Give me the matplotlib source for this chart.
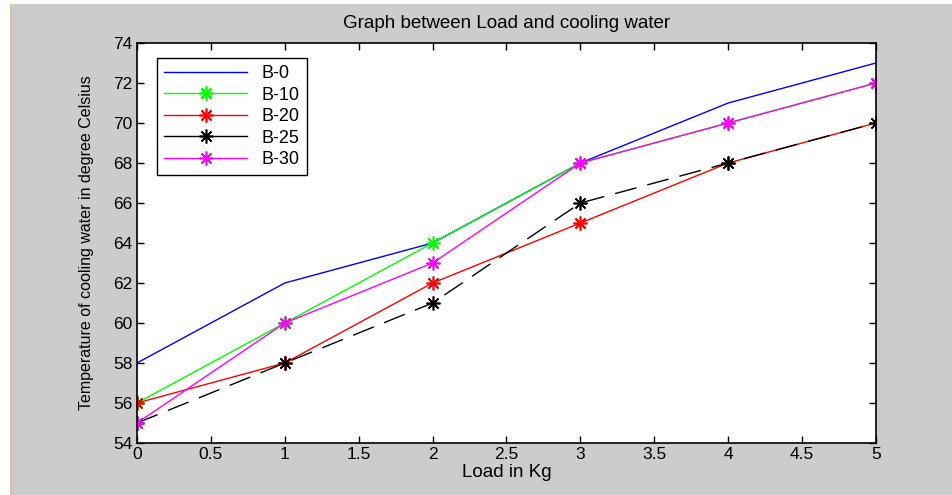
import matplotlib
matplotlib.use("Agg")
import matplotlib.pyplot as plt
from matplotlib.lines import Line2D
from matplotlib.patches import Rectangle

plt.rcParams['font.family'] = ['Liberation Sans', 'DejaVu Sans']

load = [0, 1, 2, 3, 4, 5]
b0 = [58, 62, 64, 68, 71, 73]
b10 = [56, 60, 64, 68, 70, 72]
b20 = [56, 58, 62, 65, 68, 70]
b25 = [55, 58, 61, 66, 68, 70]
b30 = [55, 60, 63, 68, 70, 72]
xticks = [0, 0.5, 1, 1.5, 2, 2.5, 3, 3.5, 4, 4.5, 5]
yticks = [54, 56, 58, 60, 62, 64, 66, 68, 70, 72, 74]

W, H = 953, 495
fig = plt.figure(figsize=(W/100, H/100), dpi=100)
fig.patch.set_facecolor('#cccccc')
# white strip at left and top edge
fig.patches.append(Rectangle((0, 0), 10/W, 1, transform=fig.transFigure, facecolor='white', edgecolor='none', zorder=0))
fig.patches.append(Rectangle((0, 1-4/H), 1, 4/H, transform=fig.transFigure, facecolor='white', edgecolor='none', zorder=0))
fig.patches.append(Rectangle((10/W, 0), 2/W, 1-4/H, transform=fig.transFigure, facecolor='#d8c8a0', edgecolor='none', zorder=0))

l, r, t, b = 137, 876, 43, 443
ax = fig.add_axes([l/W, 1-b/H, (r-l)/W, (b-t)/H])
ax.set_facecolor('white')

mk = (8, 2, 0)
ms = 10
mew = 1.2
ax.plot(load, b0, color='#0000ff', lw=1, label='B-0')
ax.plot(load, b10, color='#00ff00', lw=1, marker=mk, ms=ms, mew=mew, label='B-10')
ax.plot(load, b20, color='#ff0000', lw=1, marker=mk, ms=ms, mew=mew, label='B-20')
ax.plot(load, b25, color='black', lw=1, ls=(0, (16, 8)), marker=mk, ms=ms, mew=mew, label='B-25')
ax.plot(load, b30, color='#ff00ff', lw=1, marker=mk, ms=ms, mew=mew, label='B-30')

ax.set_xlim(0, 5)
ax.set_ylim(54, 74)
ax.set_xticks(xticks)
ax.set_xticklabels([f'{v:g}' for v in xticks])
ax.set_yticks(yticks)
ax.tick_params(direction='in', top=True, right=True, labelsize=12.5, length=5, width=1, pad=3)
for s in ax.spines.values():
    s.set_linewidth(1.2)

ax.set_title('Graph between Load and cooling water', fontsize=13.5, pad=11)
ax.set_xlabel('Load in Kg', fontsize=13.5, labelpad=1)
ax.set_ylabel('Temperature of cooling water in degree Celsius', fontsize=11.5, labelpad=14)

handles = [
    Line2D([], [], color='#0000ff', lw=1),
    Line2D([], [], color='#00ff00', lw=1, marker=mk, ms=ms, mew=mew),
    Line2D([], [], color='#ff0000', lw=1, marker=mk, ms=ms, mew=mew),
    Line2D([], [], color='black', lw=1, marker=mk, ms=ms, mew=mew),
    Line2D([], [], color='#ff00ff', lw=1, marker=mk, ms=ms, mew=mew),
]
leg = ax.legend(handles, ['B-0', 'B-10', 'B-20', 'B-25', 'B-30'],
                loc='upper left', bbox_to_anchor=(0.027, 0.963), fontsize=13,
                fancybox=False, framealpha=1, edgecolor='black', handlelength=4.6,
                handletextpad=0.8, borderaxespad=0, labelspacing=0.25, borderpad=0.4)
leg.get_frame().set_linewidth(1)

fig.savefig('out.png', dpi=100, facecolor=fig.get_facecolor())
